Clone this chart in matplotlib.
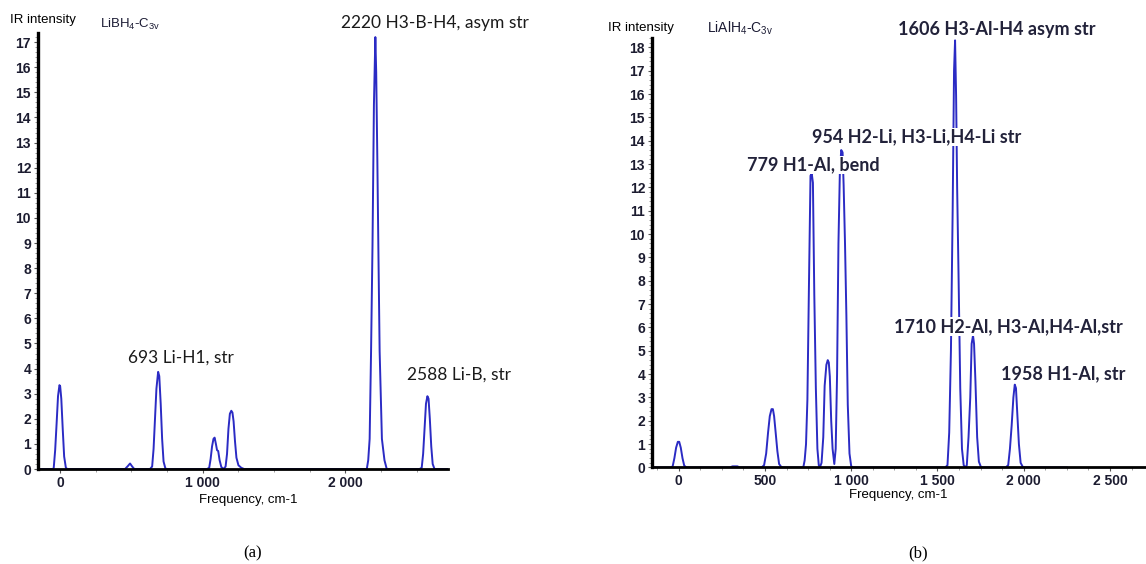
#!/usr/bin/env python
"""
Simulated IR spectra of LiBH4 and LiAlH4 (C3v)
"""

import matplotlib
matplotlib.use('Agg')
import numpy as np
from matplotlib import pyplot as plt
from matplotlib.ticker import MultipleLocator

plt.rcParams['mathtext.fontset'] = 'custom'
plt.rcParams['mathtext.rm'] = 'Liberation Sans'

linecolor = '#2b2bc4'
tickfont = 10
notefont = 'Lato'

# ---- panel (a): LiBH4-C3v, spectrum points
freq_a = [-155, -50, -45, -35, -25, -15, -5, 0, 8, 18, 28, 40, 50,
          455, 475, 490, 505, 520,
          630, 645, 655, 665, 675, 687, 695, 705, 715, 725, 738, 750,
          1030, 1045, 1055, 1065, 1075, 1083, 1092, 1100, 1108, 1118, 1130, 1146,
          1160, 1170, 1180, 1190, 1200, 1208, 1216, 1226, 1236, 1250, 1270, 1290,
          2150, 2160, 2170, 2180, 2190, 2200, 2210, 2216, 2224, 2232, 2240, 2256,
          2274, 2290,
          2520, 2535, 2545, 2555, 2565, 2575, 2583, 2592, 2602, 2612, 2625, 2720]
inten_a = [0, 0, 0.05, 0.75, 1.8, 2.9, 3.34, 3.3, 2.8, 1.6, 0.5, 0.05, 0,
           0, 0.12, 0.22, 0.1, 0,
           0, 0.1, 0.8, 2.0, 3.2, 3.87, 3.7, 2.6, 1.2, 0.3, 0.02, 0,
           0, 0.05, 0.4, 0.9, 1.2, 1.25, 1.0, 0.75, 0.72, 0.35, 0.08, 0,
           0.1, 0.6, 1.6, 2.2, 2.32, 2.25, 1.9, 1.1, 0.45, 0.15, 0.05, 0,
           0, 0.35, 1.2, 4.7, 8.9, 14.5, 17.2, 15.8, 12.3, 8.4, 4.7, 1.2,
           0.35, 0,
           0, 0.05, 0.6, 1.6, 2.6, 2.9, 2.8, 2.0, 0.9, 0.2, 0, 0]

notes_a = ['2220 H3-B-H4, asym str', '693 Li-H1, str', '2588 Li-B, str']
notes_a_xy = [(1972, 17.75), (476, 4.45), (2434, 3.77)]

# ---- panel (b): LiAlH4-C3v
freq_b = [-155, -45, -35, -25, -15, -5, 3, 12, 22, 32, 45,
          295, 312, 340, 355,
          480, 495, 507, 518, 528, 538, 546, 553, 562, 572, 582, 595, 610,
          722, 730, 738, 746, 755, 764, 771, 778, 786, 795, 804, 812, 818,
          828, 838, 846, 856, 864, 870, 876, 884, 892, 902,
          910, 918, 926, 934, 942, 950, 956, 964, 972, 980, 990, 1000, 1012,
          1545, 1558, 1568, 1578, 1588, 1596, 1602, 1608, 1614, 1622, 1632, 1642,
          1652, 1662,
          1670, 1680, 1690, 1698, 1706, 1712, 1720, 1730, 1740, 1752, 1765,
          1895, 1910, 1920, 1930, 1940, 1948, 1955, 1962, 1972, 1982, 1995, 2010,
          2250]
inten_b = [0, 0, 0.05, 0.4, 0.85, 1.1, 1.1, 0.85, 0.4, 0.08, 0,
           0, 0.05, 0.05, 0,
           0, 0.1, 0.6, 1.5, 2.2, 2.5, 2.5, 2.2, 1.5, 0.7, 0.15, 0.02, 0,
           0, 0.3, 1.0, 2.9, 7.8, 12.5, 12.6, 12.2, 7.4, 3.4, 0.8, 0.1, 0,
           0.2, 1.3, 3.5, 4.4, 4.6, 4.5, 3.9, 2.0, 0.8, 0.15,
           0.8, 4.0, 9.6, 12.6, 13.6, 13.5, 12.1, 9.6, 6.5, 2.7, 0.6, 0.05, 0,
           0, 0.1, 1.5, 5.0, 11.0, 17.0, 18.3, 15.9, 12.0, 8.3, 3.4, 0.8,
           0.1, 0,
           0.1, 1.3, 3.0, 5.3, 5.65, 5.3, 3.7, 1.3, 0.25, 0.02, 0,
           0, 0.1, 0.8, 1.8, 3.0, 3.55, 3.4, 2.4, 1.0, 0.2, 0.02, 0,
           0]

notes_b = ['1606 H3-Al-H4 asym str', '954 H2-Li, H3-Li,H4-Li str',
           '779 H1-Al, bend', '1710 H2-Al, H3-Al,H4-Al,str', '1958 H1-Al, str']
notes_b_xy = [(1270, 18.75), (770, 14.15), (395, 12.95), (1250, 6.05), (1870, 4.0)]

xticks_a = [0, 1000, 2000]
xticklabels_a = ['0', '1 000', '2 000']
xticks_b = [0, 500, 1000, 1500, 2000, 2500]
xticklabels_b = ['0', '500', '1 000', '1 500', '2 000', '2 500']


def style_axes(ax, ymax, xminor):
    ax.set_xlim(-155, 2720)
    ax.set_ylim(0, ymax)
    for s in ['top', 'right']:
        ax.spines[s].set_visible(False)
    ax.spines['left'].set_linewidth(2.4)
    ax.spines['bottom'].set_linewidth(2.0)
    ax.yaxis.set_major_locator(MultipleLocator(1))
    ax.yaxis.set_minor_locator(MultipleLocator(0.2))
    ax.xaxis.set_minor_locator(MultipleLocator(xminor))
    ax.tick_params(which='major', length=3, width=0.8, color='#555555',
                   labelsize=tickfont, labelcolor='#1c1c30', pad=2)
    ax.tick_params(which='minor', length=2, width=0.5, color='#777777')
    for lab in ax.get_xticklabels() + ax.get_yticklabels():
        lab.set_family('Liberation Sans')
        lab.set_fontweight('bold')


fig = plt.figure(figsize=(11.46, 5.64), dpi=100)

ax1 = fig.add_axes([0.0332, 0.1684, 0.3578, 0.7725])
ax1.plot(freq_a, inten_a, color=linecolor, lw=1.4, zorder=1)
ax1.set_xticks(xticks_a)
ax1.set_xticklabels(xticklabels_a)
style_axes(ax1, 17.35, 250)
for txt, (x, y) in zip(notes_a, notes_a_xy):
    ax1.text(x, y, txt, family=notefont, fontsize=12.5, color='#1a1a1a',
             ha='left', va='center', clip_on=False)

ax2 = fig.add_axes([0.5689, 0.1711, 0.4328, 0.7615])
ax2.plot(freq_b, inten_b, color=linecolor, lw=1.4, zorder=1)
ax2.set_xticks(xticks_b)
ax2.set_xticklabels(xticklabels_b)
style_axes(ax2, 18.4, 125)
for txt, (x, y) in zip(notes_b, notes_b_xy):
    ax2.text(x, y, txt, family=notefont, fontsize=13, fontweight='bold',
             color='#22223a', ha='left', va='center', clip_on=False,
             bbox=dict(facecolor='white', edgecolor='none', pad=0.5))

# axis titles and sample labels
fig.text(10/1146, 1-20/564, 'IR intensity', family='Liberation Sans',
         fontsize=9.5, va='center', ha='left')
fig.text(100/1146, 1-24/564, r'LiBH$_\mathregular{4}$-C$_\mathregular{3v}$',
         family='Liberation Sans', fontsize=9.5, va='center', ha='left',
         color='#1a1a33')
fig.text(608/1146, 1-28/564, 'IR intensity', family='Liberation Sans',
         fontsize=9.5, va='center', ha='left')
fig.text(707/1146, 1-28/564, r'LiAlH$_\mathregular{4}$-C$_\mathregular{3v}$',
         family='Liberation Sans', fontsize=10, va='center', ha='left',
         color='#1a1a33')

fig.text(248/1146, 1-500/564, 'Frequency, cm-1', family='Liberation Sans',
         fontsize=9.5, ha='center', va='center')
fig.text(898/1146, 1-495/564, 'Frequency, cm-1', family='Liberation Sans',
         fontsize=9.5, ha='center', va='center')

fig.text(253/1146, 1-553/564, '(a)', family='Liberation Serif', fontsize=12,
         ha='center', va='center')
fig.text(918/1146, 1-553/564, '(b)', family='Liberation Serif', fontsize=12,
         ha='center', va='center')

fig.savefig('out.png', dpi=100)
